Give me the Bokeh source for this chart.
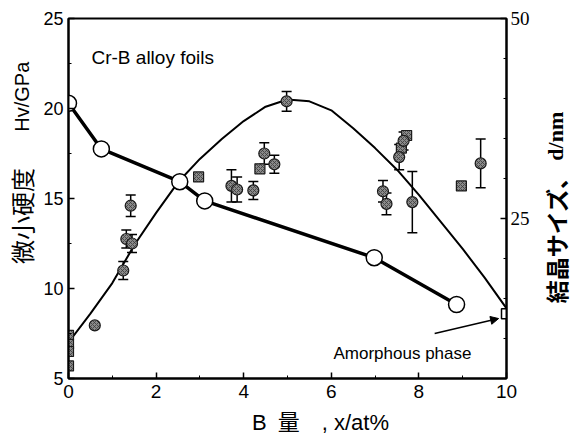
import math
from bokeh.plotting import figure
from bokeh.layouts import row
from bokeh.models import (Range1d, LinearAxis, FixedTicker, Whisker, ColumnDataSource,
                          Label, Arrow, NormalHead, TeeHead)
from bokeh.embed import file_html
from bokeh.resources import INLINE

# ---- data ----
# hardness, filled circles (B content at%, Hv GPa, error GPa)
circ_x = [0.6, 1.25, 1.32, 1.45, 1.42, 3.72, 3.85, 4.22, 4.47, 4.70, 4.98, 7.18, 7.26, 7.85, 7.55, 7.65, 9.41]
circ_hv = [7.95, 11.0, 12.75, 12.5, 14.6, 15.7, 15.5, 15.45, 17.5, 16.9, 20.4, 15.4, 14.7, 14.8, 17.3, 18.2, 16.95]
circ_err = [0.0, 0.5, 0.5, 0.5, 0.6, 0.9, 0.7, 0.5, 0.6, 0.5, 0.55, 0.6, 0.6, 1.7, 0.7, 0.5, 1.35]
# hardness, filled squares
sq_x = [0.0, 0.0, 0.0, 0.0, 2.97, 4.37, 7.60, 7.72, 8.97]
sq_hv = [7.4, 6.9, 6.5, 5.7, 16.2, 16.65, 17.8, 18.5, 15.7]
# fitted hardness curve
fit_x = [0.0, 0.5, 1.0, 1.5, 2.0, 2.5, 3.0, 3.5, 4.0, 4.5, 5.0, 5.5, 6.0, 6.5, 7.0, 7.5, 8.0, 8.5, 9.0, 9.5, 10.0]
fit_hv = [7.0, 8.6, 10.3, 12.4, 14.2, 15.9, 17.2, 18.3, 19.3, 20.1, 20.5, 20.4, 19.9, 18.9, 17.8, 16.6, 15.2, 13.7, 12.2, 10.6, 8.9]
# crystallite size, open circles (right axis)
grain_x = [0.0, 0.75, 2.54, 3.11, 6.98, 8.86]
grain_d = [39.4, 33.7, 29.6, 27.2, 20.1, 14.25]
# amorphous phase
amorph_x = [10.0]
amorph_hv = [8.6]

x_ticks = [0, 2, 4, 6, 8, 10]
x_minor = [1, 3, 5, 7, 9]
hv_ticks = [5, 10, 15, 20, 25]
hv_minor = [7.5, 12.5, 17.5, 22.5]
d_ticks = [25, 50]
d_minor = [10, 15, 20, 30, 35, 40, 45]

IS = "\u3000"  # ideographic space (padding in the x title)

sans = "Liberation Sans"
serif = "Liberation Serif"
cjk = "Noto Sans CJK JP"

H = 436          # common height of the three panels
WL, WR = 40, 40  # widths of the title panels

p = figure(frame_width=438, frame_height=360,
           x_range=Range1d(0, 10), y_range=Range1d(5, 25),
           output_backend="svg", toolbar_location=None,
           min_border_left=25, min_border_right=24, min_border_top=18, min_border_bottom=58,
           background_fill_color="white", border_fill_color="white")
p.extra_y_ranges = {"d": Range1d(5, 50)}
p.grid.visible = False
p.outline_line_color = "black"
p.outline_line_width = 2

def style_axis(ax, font, size):
    ax.axis_line_width = 2
    ax.axis_line_color = "black"
    ax.major_tick_in = 6
    ax.major_tick_out = 0
    ax.minor_tick_in = 3
    ax.minor_tick_out = 0
    ax.major_tick_line_width = 1.5
    ax.minor_tick_line_width = 1
    ax.major_label_text_font = font
    ax.major_label_text_font_size = size
    ax.major_label_text_color = "black"
    ax.axis_label_text_color = "black"

xa = p.xaxis[0]
xa.ticker = FixedTicker(ticks=x_ticks, minor_ticks=x_minor)
style_axis(xa, sans, "19px")
xa.major_label_standoff = 6
xa.axis_label = IS * 3 + "B\u2002量" + IS + ",\u00a0x/at%"
xa.axis_label_text_font = f"{sans}, {cjk}"
xa.axis_label_text_font_size = "22px"
xa.axis_label_text_font_style = "normal"
xa.axis_label_standoff = 9

ya = p.yaxis[0]
ya.ticker = FixedTicker(ticks=hv_ticks, minor_ticks=hv_minor)
style_axis(ya, sans, "18px")
ya.major_label_standoff = 5

ra = LinearAxis(y_range_name="d", ticker=FixedTicker(ticks=d_ticks, minor_ticks=d_minor))
style_axis(ra, serif, "19px")
ra.major_label_standoff = 4
p.add_layout(ra, "right")

# fitted hardness curve
p.line(fit_x, fit_hv, line_color="black", line_width=2)

# crystallite size (thick line + open circles)
p.line(grain_x, grain_d, y_range_name="d", line_color="black", line_width=3.5)

# error bars
eb_x = [x for x, e in zip(circ_x, circ_err) if e > 0]
eb_lo = [h - e for h, e in zip(circ_hv, circ_err) if e > 0]
eb_hi = [h + e for h, e in zip(circ_hv, circ_err) if e > 0]
esrc = ColumnDataSource(dict(x=eb_x, lo=eb_lo, hi=eb_hi))
w = Whisker(source=esrc, base="x", lower="lo", upper="hi", dimension="height",
            line_color="black", line_width=1.5,
            upper_head=TeeHead(size=10, line_width=1.5, line_color="black"),
            lower_head=TeeHead(size=10, line_width=1.5, line_color="black"))
p.add_layout(w)

p.scatter(sq_x, sq_hv, marker="square", size=10, fill_color="#8a8a8a", line_color="#1a1a1a",
          line_width=1.2, hatch_pattern="diagonal_cross", hatch_color="#3a3a3a", hatch_scale=4, hatch_weight=0.8)
p.scatter(circ_x, circ_hv, marker="circle", size=11, fill_color="#8a8a8a", line_color="#1a1a1a",
          line_width=1.2, hatch_pattern="diagonal_cross", hatch_color="#3a3a3a", hatch_scale=4, hatch_weight=0.8)

p.scatter(grain_x, grain_d, y_range_name="d", marker="circle", size=16,
          fill_color="white", line_color="black", line_width=1.5)

p.scatter(amorph_x, amorph_hv, marker="square", size=10, fill_color="white",
          line_color="black", line_width=1.5)

# annotations
p.add_layout(Label(x=0.525, y=22.83, text="Cr-B alloy foils", text_font=sans,
                   text_font_size="19px", text_baseline="alphabetic", text_color="black"))
p.add_layout(Label(x=6.05, y=6.39, text="Amorphous phase", text_font=sans,
                   text_font_size="17px", text_baseline="alphabetic", text_color="black"))
p.add_layout(Arrow(x_start=8.36, y_start=7.5, x_end=9.82, y_end=8.33, line_width=1.5,
                   end=NormalHead(size=8, fill_color="black", line_color="black")))

# ---- title panels (left: hardness, right: crystallite size); coordinates in panel pixels ----
def title_panel(width):
    q = figure(width=width, height=H, x_range=Range1d(0, width), y_range=Range1d(H, 0),
               output_backend="svg", toolbar_location=None, min_border=0,
               x_axis_type=None, y_axis_type=None,
               background_fill_color="white", border_fill_color="white")
    q.outline_line_color = None
    q.grid.visible = False
    return q

pL = title_panel(WL)
pL.add_layout(Label(x=21, y=95, text="Hv/GPa", angle=math.pi / 2, text_font=sans,
                    text_font_size="20px", text_align="center", text_baseline="middle",
                    text_color="black"))
pL.add_layout(Label(x=21, y=240, text="微小硬度", angle=math.pi / 2, text_font=cjk,
                    text_font_size="24px", text_align="center", text_baseline="middle",
                    text_color="black"))

pR = title_panel(WR)
pR.add_layout(Label(x=23, y=143, text="d/nm", angle=math.pi / 2, text_font=serif,
                    text_font_size="22px", text_font_style="bold", text_align="center",
                    text_baseline="middle", text_color="black"))
pR.add_layout(Label(x=23, y=262, text="結晶サイズ、", angle=math.pi / 2, text_font=cjk,
                    text_font_size="23px", text_font_style="bold", text_align="center",
                    text_baseline="middle", text_color="black"))

layout = row(pL, p, pR, spacing=0)
open("out.html", "w").write(file_html(layout, INLINE))
